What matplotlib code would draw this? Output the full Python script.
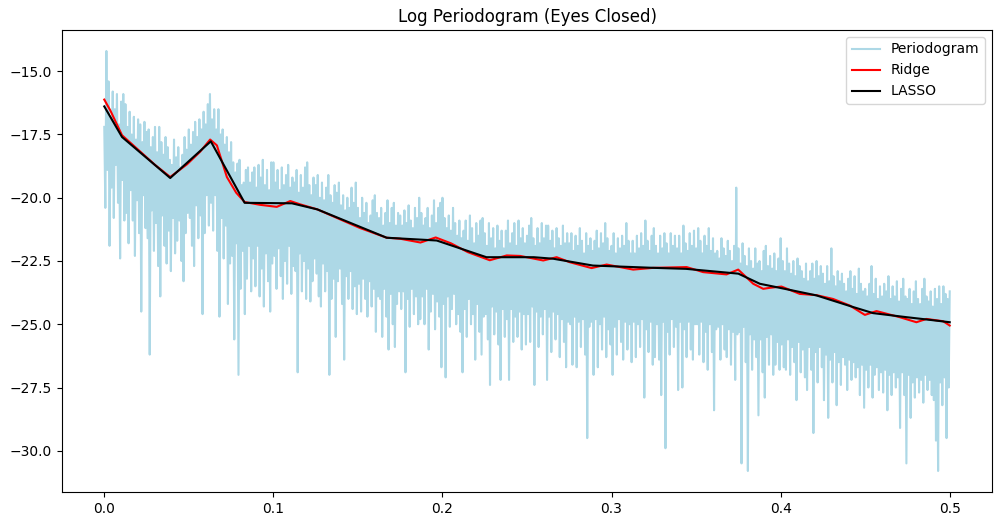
"""
Log periodogram (eyes closed) with Ridge and LASSO fits.
"""

import matplotlib
matplotlib.use("Agg")
import matplotlib.pyplot as plt
import numpy as np

# log periodogram: local peaks and the troughs between them
pgram_peaks = [
    -17.2, -14.2, -15.4, -16.9, -15.8, -16.5, -15.9, -17.1, -16.2, -15.9,
    -16.3, -17.2, -16.6, -17.5, -16.8, -17.7, -16.9, -17.1, -17.8, -17.0,
    -17.4, -17.3, -18.0, -17.6, -17.2, -18.2, -17.2, -17.8, -18.3, -17.6,
    -18.0, -18.5, -18.7, -17.7, -18.4, -18.0, -18.8, -18.3, -17.6, -18.1,
    -17.3, -17.9, -17.4, -17.0, -17.6, -16.9, -17.3, -16.6, -17.1, -16.3,
    -15.9, -16.9, -16.5, -17.3, -16.5, -17.5, -17.3, -17.9, -17.6, -18.2,
    -17.8, -18.6, -19.0, -18.65, -18.5, -19.5, -19.4, -18.9, -18.8, -19.4,
    -19.0, -18.8, -19.6, -18.7, -19.2, -18.5, -19.5, -18.9, -19.7, -18.6,
    -18.6, -19.4, -18.9, -19.7, -18.8, -19.5, -19.1, -18.7, -19.6, -19.2,
    -19.4, -18.9, -19.8, -19.1, -19.6, -18.8, -18.6, -19.5, -19.9, -19.2,
    -19.5, -19.1, -20.0, -19.4, -20.1, -19.6, -19.1, -19.9, -20.2, -19.5,
    -19.8, -19.4, -20.3, -19.9, -20.5, -20.0, -20.4, -19.6, -20.2, -19.4,
    -20.4, -20.8, -20.0, -20.6, -20.2, -21.0, -20.7, -20.1, -19.9, -20.6,
    -20.8, -20.4, -21.1, -20.6, -20.1, -21.0, -20.4, -20.2, -21.1, -20.6,
    -20.7, -21.1, -20.5, -21.0, -20.3, -20.9, -21.2, -20.4, -20.8, -20.0,
    -20.6, -21.1, -20.8, -20.4, -21.2, -20.7, -20.1, -21.0, -20.4, -20.2,
    -20.0, -20.8, -21.2, -20.7, -21.3, -20.4, -21.0, -21.5, -20.9, -21.6,
    -21.3, -20.9, -21.7, -20.7, -21.2, -21.8, -21.0, -21.5, -20.9, -20.8,
    -21.4, -21.9, -21.0, -21.6, -21.2, -22.0, -21.1, -21.7, -21.3, -22.0,
    -21.3, -20.9, -21.8, -21.4, -21.0, -21.9, -20.9, -21.6, -21.2, -21.8,
    -21.5, -21.1, -20.8, -21.6, -21.9, -21.2, -21.8, -21.0, -21.6, -21.1,
    -21.1, -21.7, -21.3, -22.0, -21.2, -21.6, -21.9, -21.1, -21.8, -21.4,
    -21.8, -21.4, -22.1, -21.5, -21.9, -21.2, -21.7, -22.2, -21.4, -21.9,
    -21.6, -22.1, -21.7, -21.3, -22.0, -21.4, -21.8, -21.0, -21.6, -22.1,
    -21.9, -21.4, -22.2, -21.6, -22.0, -21.5, -21.9, -21.0, -21.7, -22.2,
    -21.7, -22.2, -21.5, -22.0, -21.4, -21.9, -20.9, -21.7, -22.1, -21.5,
    -21.2, -21.9, -22.2, -21.5, -22.0, -21.4, -21.8, -22.2, -21.4, -21.9,
    -21.5, -22.0, -21.5, -22.2, -21.1, -21.8, -22.1, -21.4, -21.9, -21.3,
    -22.0, -21.2, -21.7, -22.2, -21.5, -21.9, -21.2, -22.1, -21.6, -22.2,
    -22.1, -22.4, -21.6, -22.0, -22.3, -21.7, -22.1, -22.5, -21.9, -19.6,
    -22.0, -22.6, -21.8, -22.3, -22.7, -22.0, -22.5, -22.8, -22.0, -22.6,
    -22.5, -22.9, -22.1, -21.9, -22.7, -22.3, -22.8, -22.2, -22.9, -22.4,
    -21.6, -22.5, -22.9, -22.0, -22.6, -23.0, -22.5, -23.1, -22.4, -22.7,
    -22.9, -23.2, -22.6, -23.3, -22.9, -22.6, -23.2, -22.5, -23.1, -22.7,
    -23.0, -23.4, -22.7, -23.3, -22.0, -23.1, -23.5, -22.9, -23.3, -23.0,
    -23.4, -23.7, -23.2, -22.9, -23.6, -23.1, -23.8, -22.8, -23.4, -23.7,
    -23.6, -23.9, -23.4, -22.7, -23.8, -23.2, -24.0, -23.5, -23.9, -23.4,
    -23.7, -23.1, -24.0, -23.5, -23.9, -23.3, -24.1, -23.6, -23.2, -23.9,
    -24.0, -23.6, -24.2, -23.7, -23.3, -24.0, -24.2, -23.6, -23.2, -23.9,
    -24.1, -23.7, -24.3, -23.6, -24.0, -23.5, -24.2, -23.5, -23.8, -24.0,
    -23.7,
]
pgram_troughs = [
    -20.4, -18.9, -21.9, -19.6, -20.8, -18.7, -20.2, -22.4, -19.3, -20.9,
    -20.6, -21.8, -19.7, -20.9, -22.3, -20.1, -21.4, -24.5, -19.9, -21.2,
    -21.6, -26.2, -20.5, -22.1, -21.0, -22.7, -23.9, -20.7, -21.9, -22.6,
    -21.3, -22.9, -20.8, -22.2, -21.7, -20.9, -22.5, -23.3, -21.4, -20.6,
    -20.8, -21.9, -22.7, -20.3, -21.6, -20.7, -24.6, -21.4, -19.9, -21.1,
    -20.2, -21.3, -19.9, -22.1, -24.7, -20.8, -22.4, -21.1, -24.2, -22.6,
    -22.3, -25.6, -21.8, -27.0, -23.6, -22.1, -24.6, -23.2, -21.9, -23.7,
    -22.4, -23.5, -21.9, -23.9, -22.8, -24.3, -22.2, -23.3, -24.5, -22.6,
    -22.3, -23.6, -22.0, -23.1, -24.0, -22.5, -23.4, -21.9, -23.8, -22.7,
    -22.9, -26.9, -22.2, -23.7, -22.5, -24.0, -22.8, -24.1, -23.3, -22.4,
    -23.0, -23.9, -24.3, -22.6, -23.7, -22.9, -27.0, -24.0, -23.2, -25.5,
    -23.3, -22.8, -24.2, -26.4, -23.1, -24.0, -22.9, -24.4, -23.5, -24.6,
    -23.4, -24.5, -23.2, -24.0, -24.7, -23.3, -24.3, -23.6, -25.3, -23.9,
    -24.0, -25.5, -23.6, -24.7, -26.0, -23.8, -25.0, -25.9, -24.2, -23.7,
    -24.4, -23.7, -26.9, -24.0, -25.1, -23.6, -24.6, -23.9, -25.0, -24.8,
    -23.9, -25.0, -23.6, -26.0, -24.5, -23.8, -25.2, -24.1, -24.7, -26.7,
    -24.2, -27.1, -23.9, -25.1, -24.4, -23.8, -25.0, -24.6, -25.3, -26.9,
    -24.4, -25.5, -24.0, -25.0, -24.6, -26.4, -24.2, -25.3, -26.2, -24.7,
    -24.6, -25.6, -27.4, -24.3, -25.4, -24.5, -25.8, -27.2, -24.4, -25.5,
    -24.8, -27.2, -24.4, -25.7, -24.7, -25.5, -24.5, -26.0, -24.6, -25.8,
    -24.6, -25.7, -24.3, -27.4, -24.5, -25.9, -24.7, -25.4, -24.4, -27.2,
    -24.7, -26.1, -24.5, -25.6, -24.6, -26.3, -24.8, -25.7, -26.7, -24.9,
    -25.0, -26.6, -24.7, -26.7, -24.9, -25.9, -24.8, -26.2, -29.5, -25.1,
    -24.9, -27.0, -24.8, -26.7, -25.0, -26.0, -24.7, -26.3, -25.2, -25.8,
    -27.0, -25.1, -26.2, -24.8, -25.7, -26.4, -24.9, -26.0, -25.0, -26.5,
    -24.9, -26.3, -25.0, -25.9, -24.8, -27.9, -25.2, -26.1, -24.9, -26.6,
    -26.3, -25.0, -26.4, -27.8, -24.9, -29.9, -25.3, -26.2, -24.8, -25.9,
    -25.1, -27.6, -24.9, -27.5, -25.2, -26.3, -24.9, -26.0, -26.4, -25.0,
    -25.0, -26.2, -24.9, -26.5, -25.3, -26.8, -25.0, -26.1, -28.4, -25.2,
    -25.1, -26.4, -25.0, -26.0, -26.3, -25.2, -26.6, -25.3, -27.2, -25.4,
    -25.3, -30.5, -25.1, -26.5, -30.8, -25.4, -26.8, -25.6, -26.3, -28.6,
    -25.6, -26.9, -27.9, -25.5, -26.6, -25.4, -27.0, -26.6, -25.7, -26.8,
    -25.8, -26.7, -26.8, -25.6, -27.0, -25.9, -26.5, -28.0, -25.7, -26.9,
    -26.0, -27.1, -27.6, -25.9, -26.8, -29.3, -26.1, -27.3, -25.9, -26.7,
    -28.0, -26.2, -28.7, -26.4, -27.3, -26.1, -28.2, -26.5, -27.4, -26.3,
    -26.6, -27.6, -26.4, -27.2, -26.5, -27.1, -26.7, -27.8, -26.6, -28.3,
    -26.8, -27.5, -26.6, -27.9, -27.0, -26.7, -27.6, -26.9, -27.7, -26.8,
    -28.4, -27.0, -27.8, -26.9, -27.5, -27.1, -29.1, -26.9, -27.8, -30.5,
    -27.0, -28.7, -27.3, -27.9, -27.1, -27.7, -27.2, -28.1, -27.0, -27.6,
    -27.2, -27.8, -28.0, -29.6, -30.8, -27.3, -28.2, -27.1, -29.5, -27.5,
]
log_pgram = np.empty(len(pgram_peaks) + len(pgram_troughs))
log_pgram[0::2] = pgram_peaks
log_pgram[1::2] = pgram_troughs
freqs = np.linspace(0, 0.5, len(log_pgram))

# ridge fit
ridge_x = [0.0, 0.0035, 0.0105, 0.02, 0.03, 0.039, 0.0489, 0.0567, 0.0626,
           0.0666, 0.0725, 0.078, 0.083, 0.0922, 0.102, 0.11, 0.1158, 0.126,
           0.151, 0.167, 0.175, 0.187, 0.196, 0.205, 0.215, 0.228, 0.238,
           0.246, 0.2596, 0.2675, 0.2754, 0.2882, 0.2971, 0.3128, 0.3247,
           0.3444, 0.3542, 0.368, 0.3749, 0.3838, 0.3897, 0.3936, 0.4005,
           0.4113, 0.4212, 0.431, 0.4409, 0.4498, 0.4567, 0.4704, 0.4803,
           0.4862, 0.4961, 0.5]
ridge_y = [-16.12, -16.54, -17.53, -18.10, -18.70, -19.18, -18.68, -18.18,
           -17.70, -17.93, -19.18, -19.80, -20.17, -20.28, -20.36, -20.13,
           -20.26, -20.46, -21.19, -21.58, -21.62, -21.77, -21.57, -21.80,
           -22.15, -22.47, -22.28, -22.30, -22.48, -22.35, -22.55, -22.78,
           -22.64, -22.84, -22.77, -22.74, -22.94, -23.03, -22.84, -23.40,
           -23.60, -23.56, -23.51, -23.80, -23.85, -24.00, -24.26, -24.63,
           -24.48, -24.72, -24.92, -24.79, -24.88, -25.05]

# lasso fit (piecewise linear)
lasso_x = [0.0, 0.0105, 0.039, 0.063, 0.083, 0.111, 0.126, 0.167, 0.1966,
           0.226, 0.254, 0.2655, 0.289, 0.3247, 0.344, 0.375, 0.3877, 0.3995,
           0.4212, 0.4429, 0.4547, 0.4744, 0.4862, 0.5]
lasso_y = [-16.39, -17.60, -19.22, -17.77, -20.20, -20.22, -20.46, -21.58,
           -21.69, -22.35, -22.35, -22.41, -22.68, -22.77, -22.81, -23.00,
           -23.40, -23.56, -23.86, -24.32, -24.56, -24.72, -24.81, -24.92]

fig = plt.figure(figsize=(10.02, 5.26), dpi=100)
ax = fig.add_axes([62 / 1002, 34 / 526, 930 / 1002, 462 / 526])
ax.plot(freqs, log_pgram, color="lightblue", lw=1.5, label="Periodogram")
ax.plot(ridge_x, ridge_y, color="red", lw=1.5, label="Ridge")
ax.plot(lasso_x, lasso_y, color="black", lw=1.5, label="LASSO")
ax.set_title("Log Periodogram (Eyes Closed)")
ax.legend(loc="upper right")
fig.savefig("out.png", dpi=100)
